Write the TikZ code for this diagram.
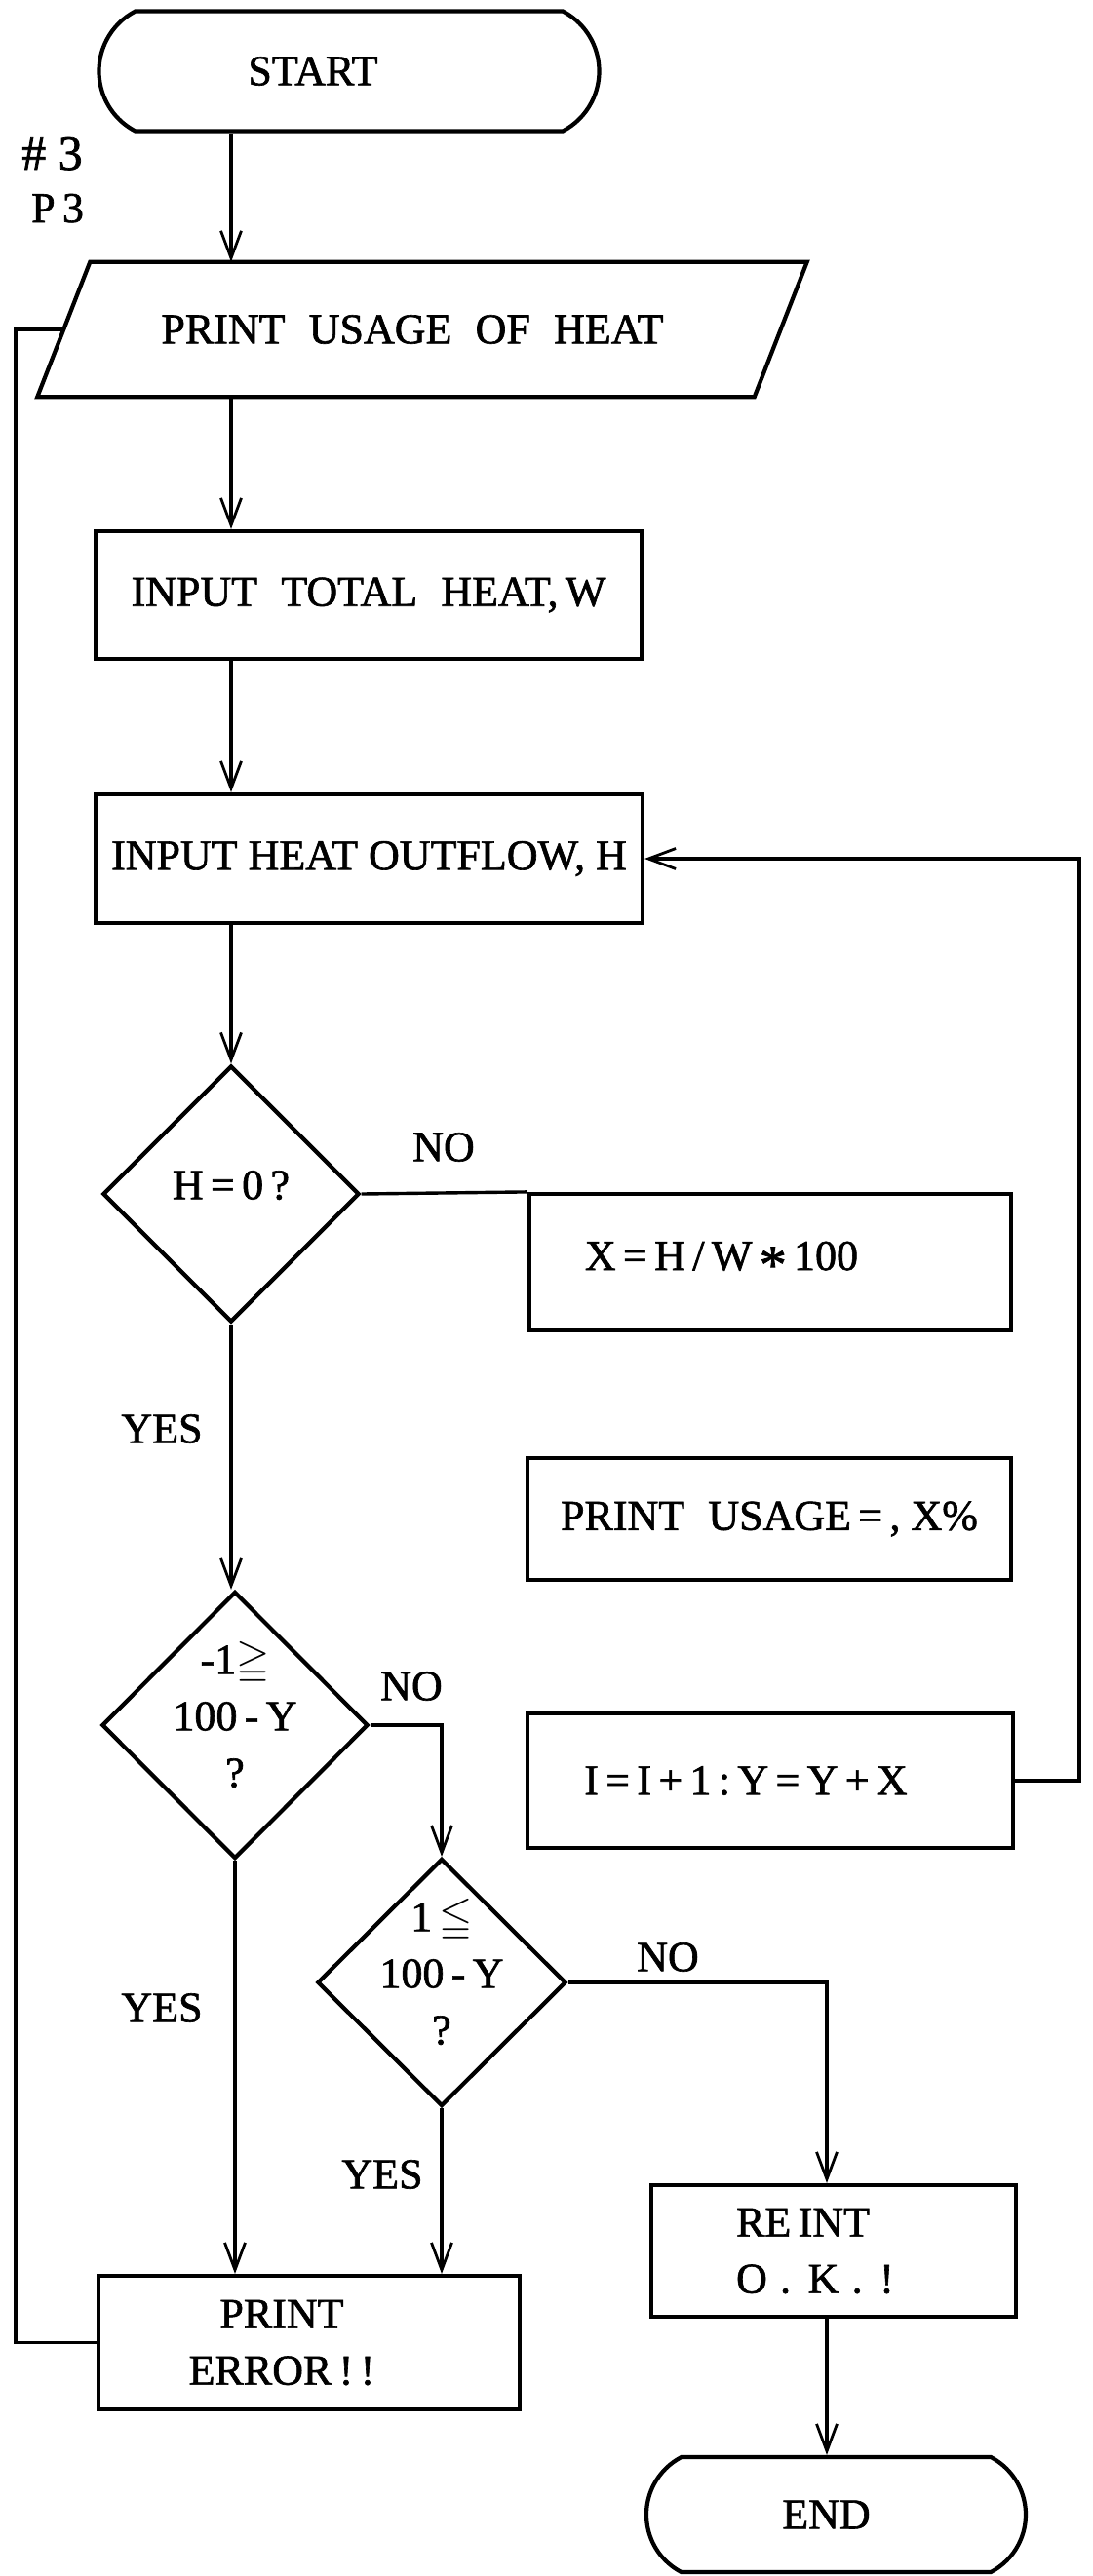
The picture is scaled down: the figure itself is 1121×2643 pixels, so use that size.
\documentclass[tikz,border=0pt]{standalone}
\usepackage{amssymb}
\usepackage{fontspec}
\setmainfont{Liberation Serif}[FakeBold=1.4]
\usetikzlibrary{shapes.geometric,shapes.misc,arrows.meta}
\newcommand\ws{\hspace{0.55em}}
\newcommand\dtext[1]{\makebox[0pt]{\smash{\begin{tabular}{@{}c@{}}#1\end{tabular}}}}
\begin{document}
\begin{tikzpicture}[x=1pt,y=-1pt,
  font=\fontsize{44}{58}\selectfont,
  outline/.style={line width=4.2pt},
  shp/.style={draw, outline, inner sep=0pt},
  proc/.style={shp, rectangle, align=center},
  term/.style={shp, rounded rectangle, rounded rectangle arc length=125},
  io/.style={rectangle, inner sep=0pt},
  decision/.style={shp, diamond, aspect=1},
  conn/.style={line width=3.4pt},
  arr/.style={conn, -{Straight Barb[length=28pt,width=21pt,line width=2.8pt]}},
  lbl/.style={inner sep=0pt}
]
\useasboundingbox (0,0) rectangle (1121,2643);
\fill[white] (0,0) rectangle (1121,2643);

% nodes
\node[term, minimum width=513, minimum height=123] (start) at (358,73) {START\hspace*{74pt}};
\node[io, minimum width=735, minimum height=138] (usage) at (433,338) {PRINT\ws USAGE\ws OF\ws HEAT\hspace*{20pt}};
\draw[outline] ([xshift=27pt]usage.north west) -- ([xshift=27pt]usage.north east)
  -- ([xshift=-27pt]usage.south east) -- ([xshift=-27pt]usage.south west) -- cycle;
\node[proc, minimum width=560, minimum height=131] (total) at (378,610.5) {INPUT\ws TOTAL\ws HEAT,\,W};
\node[proc, minimum width=561, minimum height=132] (outflow) at (378.5,881) {INPUT HEAT OUTFLOW,\ H};
\node[decision, minimum width=263, minimum height=263] (d1) at (237,1225) {\dtext{H\,=\,0\,?}};
\node[proc, minimum width=494, minimum height=140] (xcalc) at (790,1295) {X\,=\,H\,/\,W\,\raisebox{-0.3em}{\fontsize{56}{58}\selectfont *}\,100\hspace*{100pt}};
\node[proc, minimum width=496, minimum height=125] (pusage) at (789,1558.5) {PRINT\ws USAGE\,=\,,\ X\%};
\node[proc, minimum width=498, minimum height=138] (incr) at (790,1827) {I\,=\,I\,+\,1\,:\,Y\,=\,Y\,+\,X\hspace*{50pt}};
\node[decision, minimum width=273, minimum height=274] (d2) at (241,1770) {\dtext{-1$\geqq$\\100\,-\,Y\\?}};
\node[decision, minimum width=255, minimum height=254] (d3) at (453,2034) {\dtext{1\,$\leqq$\\100\,-\,Y\\?}};
\node[proc, minimum width=432, minimum height=137] (err) at (317,2403.5) {PRINT\hspace*{56pt}\\ERROR\,!\,!\hspace*{56pt}};
\node[proc, align=left, minimum width=374, minimum height=135] (ok) at (855,2309.5) {RE\,INT\\O\hspace{.3em}.\hspace{.4em}K\hspace{.3em}.\hspace{.4em}!\hspace*{38pt}};
\node[term, minimum width=389, minimum height=118] (stop) at (857.5,2580) {END\hspace*{20pt}};

% labels
\node[lbl, anchor=base west, font=\fontsize{50}{58}\selectfont] (note1) at (22,174) {\#\hspace{0.25em}3};
\node[lbl, anchor=base west] (note2) at (32,228) {P\,3};
\node[lbl] (no1) at (455,1177) {NO};
\node[lbl] (yes1) at (166,1466) {YES};
\node[lbl] (no2) at (422,1730) {NO};
\node[lbl] (yes2) at (166,2060) {YES};
\node[lbl] (no3) at (685,2008) {NO};
\node[lbl] (yes3) at (392,2231) {YES};

% connectors
\coordinate (col) at (237,0);
\draw[arr] (start.south -| col) -- (usage.north -| col);
\draw[arr] (usage.south -| col) -- (total.north -| col);
\draw[arr] (total.south -| col) -- (outflow.north -| col);
\draw[arr] (outflow.south -| col) -- (d1.north);
\draw[conn] (d1.east) -- (xcalc.north west);
\draw[arr] (d1.south) -- (d1.south |- d2.north);
\draw[arr] (d2.east) -| (d3.north);
\draw[arr] (d2.south) -- (d2.south |- err.north);
\draw[arr] (d3.south) -- (d3.south |- err.north);
\draw[arr] (d3.east) -| ([xshift=-7pt]ok.north);
\draw[arr] ([xshift=-7pt]ok.south) -- ([xshift=-7pt]ok.south |- stop.north);
\draw[arr] (incr.east) -- ++(66,0) |- (outflow.east);
\draw[conn] (err.west) -- ++(-83,0) |- (usage.west);
\end{tikzpicture}
\end{document}
